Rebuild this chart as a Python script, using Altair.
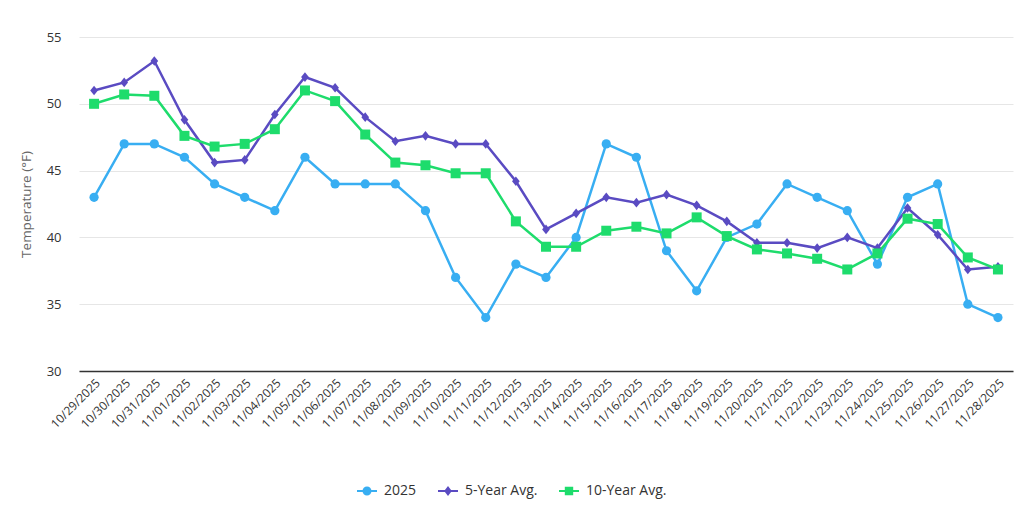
import altair as alt
import pandas as pd

dates = ["10/29/2025", "10/30/2025", "10/31/2025", "11/01/2025", "11/02/2025", "11/03/2025",
         "11/04/2025", "11/05/2025", "11/06/2025", "11/07/2025", "11/08/2025", "11/09/2025",
         "11/10/2025", "11/11/2025", "11/12/2025", "11/13/2025", "11/14/2025", "11/15/2025",
         "11/16/2025", "11/17/2025", "11/18/2025", "11/19/2025", "11/20/2025", "11/21/2025",
         "11/22/2025", "11/23/2025", "11/24/2025", "11/25/2025", "11/26/2025", "11/27/2025",
         "11/28/2025"]

temp_2025 = [43, 47, 47, 46, 44, 43, 42, 46, 44, 44, 44, 42, 37, 34, 38, 37, 40, 47, 46, 39,
             36, 40, 41, 44, 43, 42, 38, 43, 44, 35, 34]
avg_5yr = [51.0, 51.6, 53.2, 48.8, 45.6, 45.8, 49.2, 52.0, 51.2, 49.0, 47.2, 47.6, 47.0, 47.0,
           44.2, 40.6, 41.8, 43.0, 42.6, 43.2, 42.4, 41.2, 39.6, 39.6, 39.2, 40.0, 39.2, 42.2,
           40.2, 37.6, 37.8]
avg_10yr = [50.0, 50.7, 50.6, 47.6, 46.8, 47.0, 48.1, 51.0, 50.2, 47.7, 45.6, 45.4, 44.8, 44.8,
            41.2, 39.3, 39.3, 40.5, 40.8, 40.3, 41.5, 40.1, 39.1, 38.8, 38.4, 37.6, 38.8, 41.4,
            41.0, 38.5, 37.6]

series_names = ["2025", "5-Year Avg.", "10-Year Avg."]
series_colors = ["#38AEF2", "#5A4BC2", "#1EDC6C"]

rows = []
for name, vals in zip(series_names, [temp_2025, avg_5yr, avg_10yr]):
    for d, v in zip(dates, vals):
        rows.append({"Date": d, "Temp": v, "Series": name})
df = pd.DataFrame(rows)

FONT = "Open Sans"

diamond = "M-0.8,0L0,-1L0.8,0L0,1Z"
leg_circle = "M-1,-0.1H1V0.1H-1ZM0.45,0A0.45,0.45,0,1,1,-0.45,0A0.45,0.45,0,1,1,0.45,0Z"
leg_diamond = "M-1,-0.1H1V0.1H-1ZM0,-0.5L0.38,0L0,0.5L-0.38,0Z"
leg_square = "M-1,-0.1H1V0.1H-1ZM-0.42,-0.42H0.42V0.42H-0.42Z"

shape_expr = ("datum.value == '2025' ? '%s' : (datum.value == '5-Year Avg.' ? '%s' : '%s')"
              % (leg_circle, leg_diamond, leg_square))

x_enc = alt.X("Date:N", sort=dates, title=None,
              scale=alt.Scale(type="point", padding=0.5),
              axis=alt.Axis(labelAngle=-45, labelFontSize=12, labelColor="#333333",
                            labelFont=FONT, ticks=False, domainColor="#333333",
                            domainWidth=1.5, labelPadding=6, grid=False))
y_enc = alt.Y("Temp:Q", title="Temperature (°F)",
              scale=alt.Scale(domain=[30, 55], nice=False, zero=False),
              axis=alt.Axis(values=[30, 35, 40, 45, 50, 55], labelFontSize=13,
                            labelColor="#333333", labelFont=FONT, titleFont=FONT,
                            titleFontSize=13.5, titleColor="#666666", titleFontWeight="normal",
                            domain=False, ticks=False, tickSize=0, labelPadding=18,
                            titlePadding=13, gridColor="#e6e6e6", gridWidth=1))

lines = alt.Chart(df).mark_line(strokeWidth=2.5).encode(
    x=x_enc, y=y_enc,
    color=alt.Color("Series:N",
                    scale=alt.Scale(domain=series_names, range=series_colors),
                    legend=None),
    detail="Series:N"
)

points = alt.Chart(df).mark_point(filled=True, opacity=1).encode(
    x=x_enc, y=y_enc,
    color=alt.Color("Series:N",
                    scale=alt.Scale(domain=series_names, range=series_colors),
                    legend=alt.Legend(
                        title=None, orient="none", direction="horizontal",
                        legendX=278, legendY=444,
                        labelFont=FONT, labelFontSize=14, labelColor="#333333",
                        symbolSize=400, symbolStrokeWidth=0, columnPadding=21,
                        labelOffset=7,
                        symbolType=alt.ExprRef(expr=shape_expr))),
    shape=alt.Shape("Series:N",
                    scale=alt.Scale(domain=series_names, range=["circle", diamond, "square"]),
                    legend=None),
    size=alt.Size("Series:N",
                  scale=alt.Scale(domain=series_names, range=[85, 100, 100]),
                  legend=None),
)

chart = alt.layer(lines, points).resolve_legend(color="independent").properties(
    width=934, height=334,
    autosize=alt.AutoSizeParams(type="none"),
    padding={"left": 79, "top": 37, "right": 19, "bottom": 142},
).configure(font=FONT, background="white").configure_view(stroke=None)

chart.save("out.html", embed_options={"renderer": "svg", "actions": False})
